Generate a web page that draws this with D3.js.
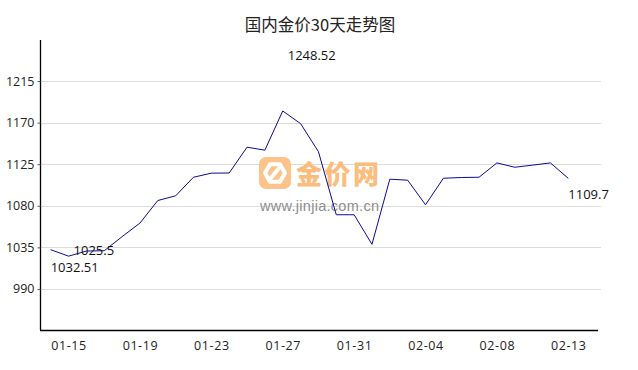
<!DOCTYPE html>
<html><head><meta charset="utf-8">
<script src="https://cdn.jsdelivr.net/npm/d3@7"></script>
<style>
html,body{margin:0;padding:0;background:#fff;}
svg{display:block;}
text{font-family:"Open Sans","Noto Sans",sans-serif;}
</style></head>
<body>
<script>
const title = "国内金价30天走势图";
const dates = ["01-14","01-15","01-16","01-17","01-18","01-19","01-20","01-21","01-22","01-23",
  "01-24","01-25","01-26","01-27","01-28","01-29","01-30","01-31","02-01","02-02",
  "02-03","02-04","02-05","02-06","02-07","02-08","02-09","02-10","02-12","02-13"];
const prices = [1032.51,1025.5,1031.0,1031.4,1046.6,1061.3,1085.7,1090.8,1110.9,1115.3,
  1115.5,1143.4,1140.2,1182.6,1168.9,1138.6,1070.3,1070.3,1038.3,1108.8,
  1107.7,1081.1,1109.8,1110.6,1110.9,1126.4,1121.7,1124.0,1126.4,1109.7];
const xTickLabels = ["01-15","01-19","01-23","01-27","01-31","02-04","02-08","02-13"];
const yTickValues = [990,1035,1080,1125,1170,1215];
const yDomain = [945.6, 1259.4];
// annotations
const annoDates = ["01-14","01-15","01-27","02-13"];
const annoTexts = ["1032.51","1025.5","1248.52","1109.7"];
const annoValues = [1032.51,1025.5,1248.52,1109.7];
const watermarkText = "金价网";
const watermarkUrl = "www.jinjia.com.cn";

const W = 638, H = 370;
const svg = d3.select("body").append("svg").attr("width", W).attr("height", H);

const plot = {left: 40, right: 600, top: 40, bottom: 330};
const x = d3.scalePoint().domain(dates).range([50.7, 568.3]);
const y = d3.scaleLinear().domain(yDomain).range([plot.bottom, plot.top]);

// title
svg.append("text").attr("x", 320).attr("y", 31).attr("text-anchor", "middle")
  .style("font-family", '"Noto Sans CJK SC",sans-serif').style("font-size", "16.5px").attr("fill", "#222")
  .text(title);

// gridlines
svg.append("g").selectAll("line").data(yTickValues).join("line")
  .attr("x1", plot.left).attr("x2", 601)
  .attr("y1", d => Math.round(y(d)) + 0.5).attr("y2", d => Math.round(y(d)) + 0.5)
  .attr("stroke", "#dcdcdc").attr("stroke-width", 1);

// watermark
const wm = svg.append("g");
wm.append("rect").attr("x", 259).attr("y", 157).attr("width", 32).attr("height", 32).attr("rx", 7)
  .attr("fill", "#fcc48a");
const hex = d3.line().curve(d3.curveLinearClosed);
const cx = 275, cy = 173, r = 10;
wm.append("path").attr("d", hex(d3.range(6).map(i => [cx + r*Math.cos(Math.PI/3*i), cy + r*Math.sin(Math.PI/3*i)])))
  .attr("fill", "none").attr("stroke", "#fff").attr("stroke-width", 4).attr("stroke-linejoin", "round");
wm.append("path").attr("d", `M${cx-5},${cy+6}L${cx+5},${cy-6}`).attr("stroke", "#fff").attr("stroke-width", 4);
wm.append("text").attr("x", 296).attr("y", 184).style("font-family", '"Noto Sans CJK SC",sans-serif')
  .style("font-size", "26px").style("font-weight", "900").attr("fill", "#fbbd7d").attr("textLength", 83)
  .text(watermarkText);
wm.append("text").attr("x", 260).attr("y", 211).style("font-family", '"Liberation Sans",Arial,sans-serif')
  .style("font-size", "14.5px").attr("fill", "#8e8e8e").attr("textLength", 119)
  .text(watermarkUrl);

// y axis
const yAxis = d3.axisLeft(y).tickValues(yTickValues).tickSize(3).tickPadding(3).tickFormat(d3.format("d"));
const gy = svg.append("g").attr("transform", `translate(${plot.left + 0.5},0)`).call(yAxis);
gy.select(".domain").attr("d", `M0,${plot.top}V${plot.bottom}`).attr("stroke", "#000").attr("stroke-width", 1.3);
gy.selectAll(".tick line").attr("stroke", "#555");
gy.selectAll("text").style("font-size", "12.5px").attr("fill", "#222").style("font-family", '"Open Sans",sans-serif');

// x axis
const xAxis = d3.axisBottom(x).tickValues(xTickLabels).tickSize(0).tickPadding(11);
const gx = svg.append("g").attr("transform", `translate(0,${plot.bottom + 0.5})`).call(xAxis);
gx.select(".domain").attr("d", `M${plot.left},0H598`).attr("stroke", "#000").attr("stroke-width", 1.3);
gx.selectAll("text").style("font-size", "12.5px").attr("fill", "#222").attr("letter-spacing", "0.6px")
  .style("font-family", '"Open Sans",sans-serif');

// line
const line = d3.line().x((d, i) => x(dates[i])).y(d => y(d));
svg.append("path").datum(prices).attr("d", line).attr("fill", "none")
  .attr("stroke", "#0a0a9a").attr("stroke-width", 1);

// annotations
const dxs = [0, 5, 5, 0];
const dys = [22, -1.5, 10, 21];
svg.append("g").selectAll("text").data(annoTexts).join("text")
  .attr("x", (d, i) => x(annoDates[i]) + dxs[i])
  .attr("y", (d, i) => y(annoValues[i]) + dys[i])
  .style("font-size", "13px").attr("fill", "#111")
  .text(d => d);
</script>
</body></html>
